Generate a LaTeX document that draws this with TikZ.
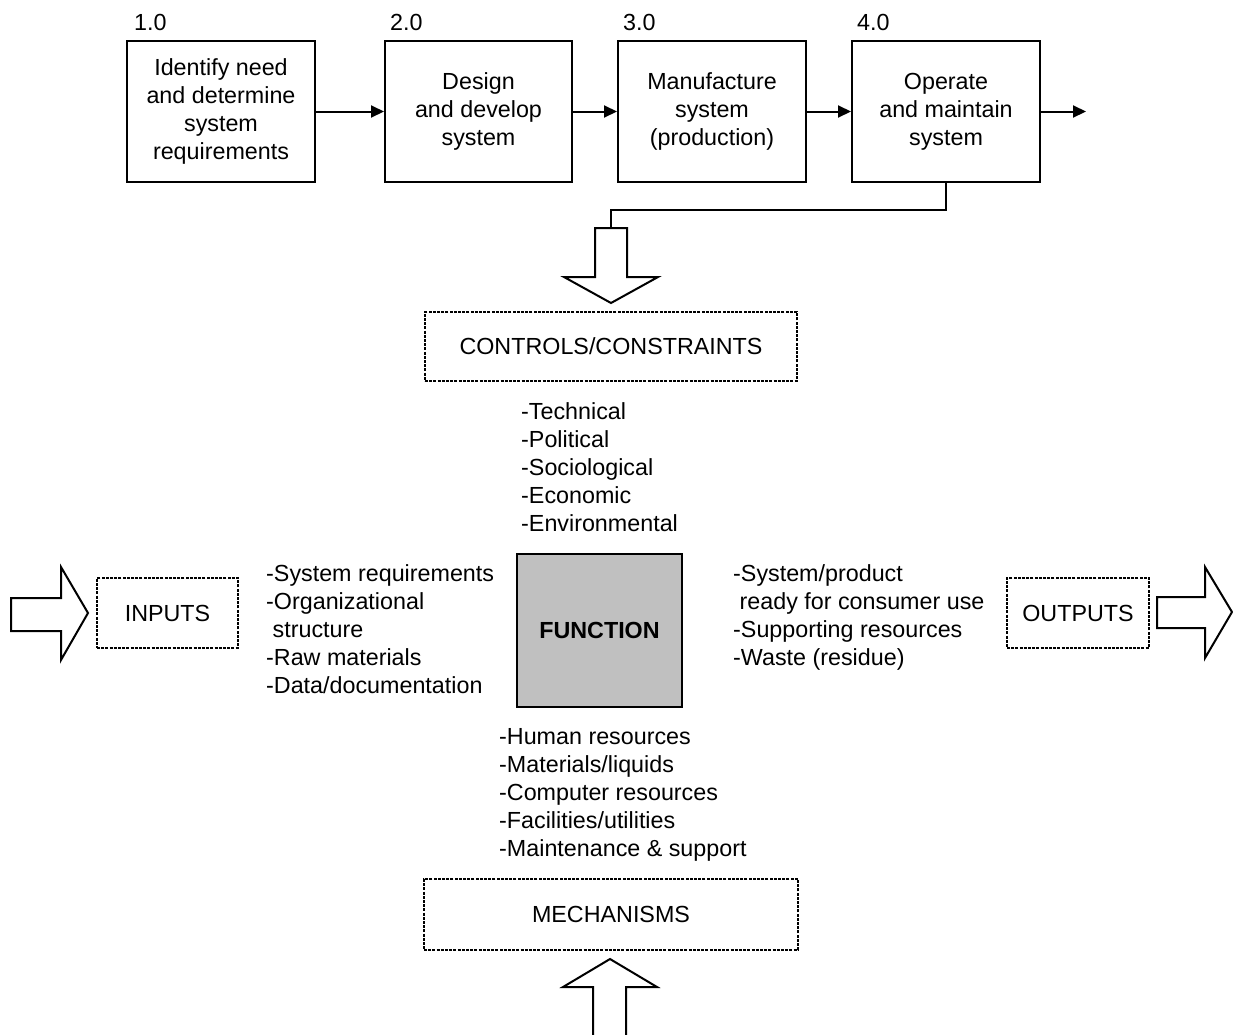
\documentclass[tikz,border=0pt]{standalone}
\usepackage{fontspec}
\setmainfont{Liberation Sans}
\usetikzlibrary{arrows.meta}
\definecolor{fungray}{RGB}{192,192,192}
\begin{document}
\begin{tikzpicture}[x=1pt,y=-1pt,
  every node/.style={font=\fontsize{23.3}{28}\selectfont, inner sep=0pt},
  stepbox/.style={draw, line width=2pt, minimum width=188pt, minimum height=141pt, align=center},
  dotbox/.style={draw, line width=2pt, dash pattern=on 3pt off 1.2pt, align=center},
  flow/.style={line width=2pt, -{Triangle[length=13pt,width=12pt]}},
  hollow/.style={draw, line width=2pt, fill=white, line join=miter},
  listtxt/.style={anchor=north west, align=left}
]
\useasboundingbox (0,0) rectangle (1233,1034);
\fill[white] (0,0) rectangle (1233,1034);

% top process boxes
\node[stepbox] (b1) at (221,111.5) {Identify need\\and determine\\system\\requirements};
\node[stepbox, minimum width=187pt] (b2) at (478.5,111.5) {Design\\and develop\\system};
\node[stepbox] (b3) at (712,111.5) {Manufacture\\system\\(production)};
\node[stepbox] (b4) at (946,111.5) {Operate\\and maintain\\system};

\node[anchor=base west] (n1) at (134,30) {1.0};
\node[anchor=base west] (n2) at (390,30) {2.0};
\node[anchor=base west] (n3) at (623,30) {3.0};
\node[anchor=base west] (n4) at (857,30) {4.0};

\coordinate (bend) at (1086,111.5);
\draw[flow] (b1) -- (b2);
\draw[flow] (b2) -- (b3);
\draw[flow] (b3) -- (b4);
\draw[flow] (b4) -- (bend);

% down hollow arrow (controls)
\coordinate (ctop) at (611,228);
\draw[line width=2pt] (b4.south) |- (611,210) -- (ctop);
\draw[hollow] (595,228) -- (627,228) -- (627,277) -- (658,277) -- (611,303) -- (564,277) -- (595,277) -- cycle;

% dotted boxes
\node[dotbox, minimum width=372pt, minimum height=69pt] (ctl) at (611,346.5) {CONTROLS/CONSTRAINTS};
\node[dotbox, minimum width=141pt, minimum height=70pt] (inp) at (167.5,613) {INPUTS};
\node[dotbox, minimum width=142pt, minimum height=70pt] (out) at (1078,613) {OUTPUTS};
\node[dotbox, minimum width=374pt, minimum height=71pt] (mech) at (611,914.5) {MECHANISMS};

% function box
\node[draw, line width=2pt, fill=fungray, minimum width=165pt, minimum height=153pt, font=\fontsize{23.3}{28}\selectfont\bfseries] (fun) at (599.5,630.5) {FUNCTION};

% left hollow arrow
\draw[hollow] (11,598) -- (61,598) -- (61,567) -- (88,613) -- (61,660) -- (61,631) -- (11,631) -- cycle;
% right hollow arrow
\draw[hollow] (1157,597) -- (1205,597) -- (1205,567) -- (1232,612) -- (1205,658) -- (1205,628) -- (1157,628) -- cycle;
% up hollow arrow
\draw[hollow] (593,1040) -- (593,987) -- (563,987) -- (610,959) -- (657,987) -- (626,987) -- (626,1040);

% lists
\node[listtxt] (lctl) at (521,402) {-Technical\\-Political\\-Sociological\\-Economic\\-Environmental};
\node[listtxt] (linp) at (266,564) {-System requirements\\-Organizational\\\ structure\\-Raw materials\\-Data/documentation};
\node[listtxt] (lout) at (733,564) {-System/product\\\ ready for consumer use\\-Supporting resources\\-Waste (residue)};
\node[listtxt] (lmech) at (499,728) {-Human resources\\-Materials/liquids\\-Computer resources\\-Facilities/utilities\\-Maintenance \& support};
\end{tikzpicture}
\end{document}
